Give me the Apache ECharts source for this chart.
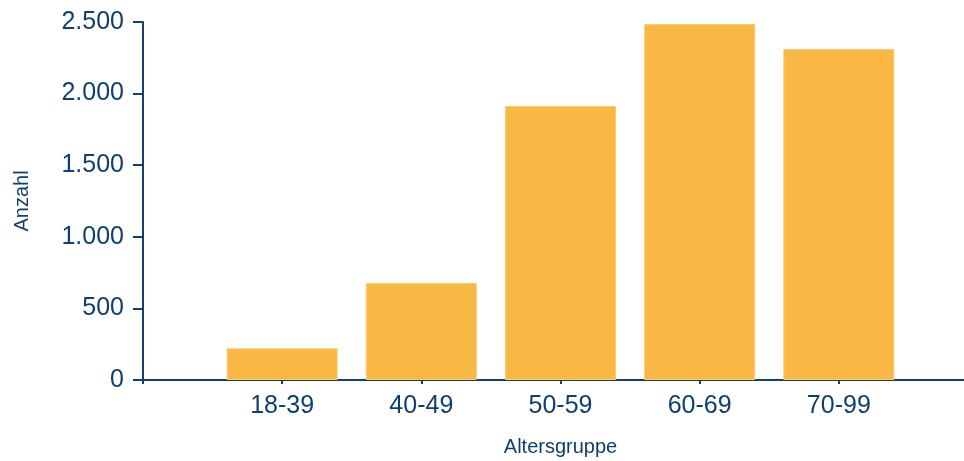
<!DOCTYPE html>
<html>
<head>
<meta charset="utf-8">
<script src="https://cdn.jsdelivr.net/npm/echarts@6/dist/echarts.min.js"></script>
<style>html,body{margin:0;padding:0;background:#fff;}#c{width:964px;height:461px;}</style>
</head>
<body>
<div id="c"></div>
<script>
const categories = ['18-39', '40-49', '50-59', '60-69', '70-99'];
const counts = [221, 677, 1913, 2486, 2311];
const yTicks = [0, 500, 1000, 1500, 2000, 2500];
const xName = 'Altersgruppe';
const yName = 'Anzahl';

const txt = '#0E3F6E';
const axisCol = '#123F6B';
const chart = echarts.init(document.getElementById('c'), null, {renderer: 'canvas'});
const fmtNum = v => String(v).replace(/\B(?=(\d{3})+(?!\d))/g, '.');
chart.setOption({
  animation: false,
  grid: {left: 143, width: 835, top: 22, bottom: 81, containLabel: false, outerBoundsMode: 'none'},
  xAxis: {
    type: 'value', min: 0, max: categories.length + 1, interval: 1,
    name: xName, nameLocation: 'middle', nameGap: 57,
    nameTextStyle: {color: txt, fontSize: 20, fontFamily: 'Liberation Sans, Arial, sans-serif'},
    axisLine: {show: true, lineStyle: {color: axisCol, width: 2}},
    axisTick: {show: true, length: 4, lineStyle: {color: axisCol, width: 2}},
    splitLine: {show: false},
    axisLabel: {
      color: txt, fontSize: 25, margin: 14, fontFamily: 'Liberation Sans, Arial, sans-serif',
      formatter: v => categories[v - 1] || ''
    }
  },
  yAxis: {
    type: 'value', min: yTicks[0], max: yTicks[yTicks.length - 1], interval: yTicks[1] - yTicks[0],
    name: yName, nameLocation: 'middle', nameGap: 111,
    nameTextStyle: {color: txt, fontSize: 20, fontFamily: 'Liberation Sans, Arial, sans-serif'},
    axisLine: {show: true, lineStyle: {color: axisCol, width: 2}},
    axisTick: {show: true, length: 10, lineStyle: {color: axisCol, width: 2}},
    splitLine: {show: false},
    axisLabel: {color: txt, fontSize: 25, margin: 19, fontFamily: 'Liberation Sans, Arial, sans-serif', formatter: fmtNum}
  },
  series: [{
    type: 'bar',
    barWidth: 111,
    data: categories.map((c, i) => [i + 1, counts[i]]),
    itemStyle: {color: '#F9B844', borderColor: '#FBCB73', borderWidth: 1}
  }]
});
</script>
</body>
</html>
